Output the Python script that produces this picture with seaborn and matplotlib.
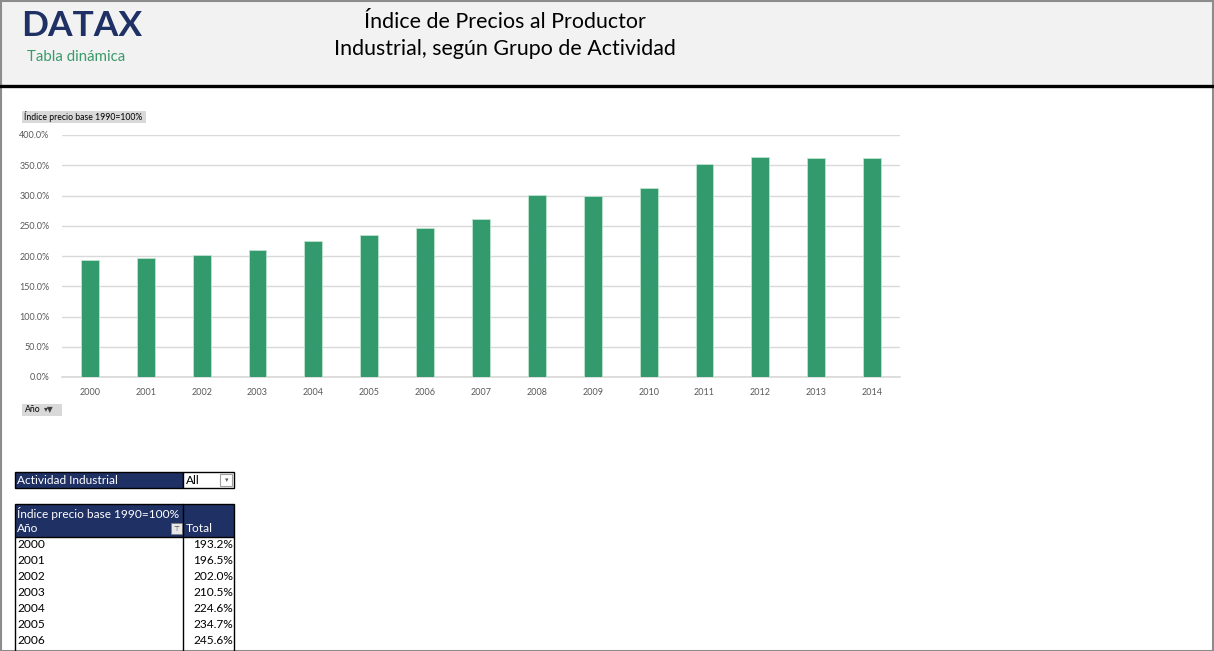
import matplotlib.pyplot as plt
import matplotlib.patches as patches
import seaborn as sns
import pandas as pd

# data (table gives 2000-2006 exactly)
years = ['2000', '2001', '2002', '2003', '2004', '2005', '2006', '2007',
         '2008', '2009', '2010', '2011', '2012', '2013', '2014']
index_values = [193.2, 196.5, 202.0, 210.5, 224.6, 234.7, 245.6, 261.0,
                301.0, 299.0, 311.8, 352.0, 364.2, 362.6, 361.6]
y_ticks = [0, 50, 100, 150, 200, 250, 300, 350, 400]

title_lines = ['Índice de Precios al Productor', 'Industrial, según Grupo de Actividad']
measure_label = 'Índice precio base 1990=100%'
filter_label = 'Actividad Industrial'
filter_value = 'All'

NAVY = '#1f3064'
GREEN = '#329a6c'
W, H = 1214, 651
FS = 8.6  # table font size

df = pd.DataFrame({'Año': years, 'Valor': index_values})

sns.set_theme(style='white')
plt.rcParams['font.family'] = ['Lato', 'DejaVu Sans']

fig = plt.figure(figsize=(W / 100, H / 100), dpi=100)
fig.patch.set_facecolor('white')

# overlay in pixel coordinates for the sheet decoration
bg = fig.add_axes([0, 0, 1, 1], zorder=0)
bg.set_xlim(0, W)
bg.set_ylim(H, 0)
bg.axis('off')

# header band
bg.add_patch(patches.Rectangle((0, 0), W, 85, facecolor='#f2f2f2', edgecolor='none'))
bg.plot([0, W], [86, 86], color='black', lw=2.4)
# outer border
bg.add_patch(patches.Rectangle((0.5, 0.5), W - 2, H - 1, facecolor='none',
                               edgecolor='#8c8c8c', lw=1.5))

bg.text(21, 26, 'DATAX', fontsize=25.5, fontweight='bold', color=NAVY,
        va='center', ha='left', family=['Lato', 'DejaVu Sans'])
bg.text(27, 57, 'Tabla dinámica', fontsize=10.8, color='#3a9a6a', va='center', ha='left')
bg.text(505, 22, title_lines[0], fontsize=15.4, color='black', ha='center', va='center')
bg.text(505, 49, title_lines[1], fontsize=15.4, color='black', ha='center', va='center')

# pivot chart buttons
bg.add_patch(patches.Rectangle((22, 111), 124, 12, facecolor='#d9d9d9', edgecolor='none'))
bg.text(24, 117, measure_label, fontsize=6.2, color='black', va='center', ha='left')
bg.add_patch(patches.Rectangle((22, 404), 40, 12, facecolor='#d9d9d9', edgecolor='none'))
bg.text(25, 410, 'Año', fontsize=6.2, color='black', va='center', ha='left')
bg.text(44, 410, '▾▼', fontsize=5.5, color='#404040', va='center', ha='left',
        family=['DejaVu Sans'])

# filter row
bg.add_patch(patches.Rectangle((15, 472), 168, 16, facecolor=NAVY, edgecolor='black', lw=1))
bg.add_patch(patches.Rectangle((183, 472), 51, 16, facecolor='white', edgecolor='black', lw=1))
bg.add_patch(patches.Rectangle((220, 474), 12, 12, facecolor='white', edgecolor='#a0a0a0', lw=0.8))
bg.text(224.5, 480, '▾', fontsize=5, color='#606060', va='center', ha='left',
        family=['DejaVu Sans'])
bg.text(17, 480, filter_label, fontsize=FS, color='white', va='center', ha='left')
bg.text(186, 480, filter_value, fontsize=FS, color='black', va='center', ha='left')

# pivot table
bg.add_patch(patches.Rectangle((15, 504), 219, 33, facecolor=NAVY, edgecolor='black', lw=1))
bg.text(17, 513, measure_label, fontsize=FS, color='white', va='center', ha='left')
bg.text(17, 529, 'Año', fontsize=FS, color='white', va='center', ha='left')
bg.text(186, 529, 'Total', fontsize=FS, color='white', va='center', ha='left')
bg.add_patch(patches.Rectangle((171, 523), 11, 11, facecolor='#e8e8e8', edgecolor='#808080', lw=0.6))
bg.text(176.5, 528.5, '⊤', fontsize=5, color='#404040', va='center', ha='center',
        family=['DejaVu Sans'])
bg.plot([183, 183], [504, H], color='black', lw=1)
bg.plot([15, 15], [537, H], color='black', lw=1)
bg.plot([234, 234], [537, H], color='black', lw=1)
for i, (yr, v) in enumerate(zip(years, index_values)):
    ry = 545 + 16 * i
    if ry > H:
        break
    bg.text(17, ry, yr, fontsize=FS, color='black', va='center', ha='left')
    bg.text(233, ry, f'{v:.1f}%', fontsize=FS, color='black', va='center', ha='right')

# the chart itself
left, right, top, bottom = 62, 900, 135, 377
ax = fig.add_axes([left / W, 1 - bottom / H, (right - left) / W, (bottom - top) / H], zorder=1)
ax.set_facecolor('none')
sns.barplot(data=df, x='Año', y='Valor', color=GREEN, saturation=1, width=0.32,
            edgecolor='#bfe3cf', linewidth=0.6, ax=ax, zorder=3)
ax.set_xlim(-0.5, len(years) - 0.5)
ax.set_ylim(0, 400)
ax.set_yticks(y_ticks)
ax.set_yticklabels([f'{t:.1f}%' for t in y_ticks])
ax.grid(axis='y', color='#d9d9d9', lw=1)
ax.set_axisbelow(True)
for s in ['top', 'right', 'left']:
    ax.spines[s].set_visible(False)
ax.spines['bottom'].set_color('#d9d9d9')
ax.tick_params(axis='both', length=0, labelsize=6.5, colors='#595959')
ax.tick_params(axis='y', pad=9)
ax.tick_params(axis='x', pad=8)
ax.set_xlabel('')
ax.set_ylabel('')

fig.savefig('out.png', dpi=100)
